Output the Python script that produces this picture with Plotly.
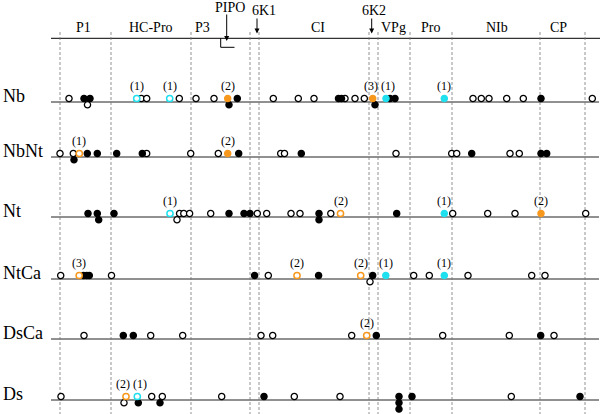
import plotly.graph_objects as go

# ---------------- data ----------------
rows = ["Nb", "NbNt", "Nt", "NtCa", "DsCa", "Ds"]
row_y = [102, 157, 217, 279, 339, 400]          # baseline of each row (y axis units)

regions = ["P1", "HC-Pro", "P3", "CI", "VPg", "Pro", "NIb", "CP"]
region_x = [83, 150.5, 202, 318, 393.5, 430, 496.5, 558]
boundaries = [60, 111, 191, 250, 259, 369, 378, 410, 452, 540, 585]

genome_start, genome_end = 51, 599
small = ["PIPO", "6K1", "6K2"]
small_x = [230, 264, 374]
arrow_x = [226.7, 257, 371.7]

# marker kinds: o=open black, f=filled black, co=cyan open, cf=cyan filled, oo=orange open, of=orange filled
# each entry: (position, kind, stack level, label)
mut = {
    "Nb": [(69, "o", 0, ""), (84, "f", 0, ""), (90, "f", 0, ""), (87.5, "o", 1, ""),
           (136.7, "co", 0, "(1)"), (141.3, "o", 0, ""), (146.7, "o", 0, ""),
           (169.7, "co", 0, "(1)"), (179.3, "o", 0, ""), (196, "o", 0, ""), (214, "o", 0, ""),
           (227.7, "of", 0, "(2)"), (237.3, "f", 0, ""), (229, "f", 1, ""),
           (273.3, "o", 0, ""), (298.3, "o", 0, ""), (314, "o", 0, ""),
           (338.5, "f", 0, ""), (341.5, "f", 0, ""), (345, "o", 0, ""), (355, "o", 0, ""), (364.3, "o", 0, ""),
           (372.7, "of", 0, "(3)"), (375, "f", 1, ""),
           (386, "cf", 0, "(1)"), (390, "f", 0, ""), (395, "f", 0, ""),
           (444.3, "cf", 0, "(1)"), (473, "o", 0, ""), (481.3, "o", 0, ""), (489, "o", 0, ""),
           (506.7, "o", 0, ""), (523.3, "o", 0, ""), (541, "f", 0, ""), (592.3, "o", 0, "")],
    "NbNt": [(60, "o", 0, ""), (73.3, "o", 0, ""), (79.3, "oo", 0, "(1)"), (74, "f", 1, ""),
             (87.3, "f", 0, ""), (97.3, "f", 0, ""), (116.7, "f", 0, ""), (142.3, "f", 0, ""),
             (146.7, "o", 0, ""), (190.7, "o", 0, ""), (218.3, "o", 0, ""), (227.7, "of", 0, "(2)"),
             (238.7, "f", 0, ""), (280.7, "o", 0, ""), (284.5, "o", 0, ""), (301.3, "f", 0, ""),
             (396, "o", 0, ""), (451.7, "o", 0, ""), (456.7, "o", 0, ""), (471.7, "f", 0, ""),
             (510, "o", 0, ""), (519.3, "o", 0, ""), (541, "f", 0, ""), (546.7, "f", 0, "")],
    "Nt": [(88, "f", 0, ""), (97.3, "f", 0, ""), (98.7, "f", 1, ""), (114, "f", 0, ""),
           (170, "co", 0, "(1)"), (179.6, "o", 0, ""), (183.8, "o", 0, ""), (189.6, "o", 0, ""),
           (177, "o", 1, ""), (210.7, "o", 0, ""), (229, "f", 0, ""), (244, "f", 0, ""),
           (250, "f", 0, ""), (257.3, "o", 0, ""), (266.7, "o", 0, ""), (291, "o", 0, ""),
           (300, "o", 0, ""), (319, "f", 0, ""), (319, "f", 1, ""), (330.8, "o", 0, ""),
           (340.5, "oo", 0, "(2)"), (396.7, "f", 0, ""), (444.3, "cf", 0, "(1)"),
           (452.7, "o", 0, ""), (487.7, "o", 0, ""), (515, "o", 0, ""), (541, "of", 0, "(2)"),
           (585.7, "o", 0, "")],
    "NtCa": [(60.7, "o", 0, ""), (79.2, "oo", 0, "(3)"), (83.5, "f", 0, ""), (86.7, "f", 0, ""),
             (89.3, "f", 0, ""), (111.5, "o", 0, ""), (254.6, "f", 0, ""), (268.3, "o", 0, ""),
             (297, "oo", 0, "(2)"), (318.6, "f", 0, ""), (360.7, "oo", 0, "(2)"),
             (372.7, "f", 0, ""), (370, "o", 1, ""), (385.8, "cf", 0, "(1)"),
             (413.7, "o", 0, ""), (429.3, "o", 0, ""), (444.3, "cf", 0, "(1)"),
             (468, "o", 0, ""), (531.7, "o", 0, ""), (545, "o", 0, "")],
    "DsCa": [(84, "o", 0, ""), (123.3, "f", 0, ""), (133.3, "f", 0, ""), (150.7, "o", 0, ""),
             (182.7, "o", 0, ""), (261, "o", 0, ""), (272.7, "o", 0, ""), (351.7, "o", 0, ""),
             (366.7, "oo", 0, "(2)"), (376.3, "f", 0, ""), (442.7, "o", 0, ""),
             (509.3, "o", 0, ""), (540.7, "f", 0, ""), (554, "o", 0, "")],
    "Ds": [(61, "o", 0, ""), (126, "oo", 0, "(2)"), (137.3, "co", 0, "(1)"), (124, "o", 1, ""),
           (138.3, "f", 1, ""), (151.7, "o", 0, ""), (162.3, "o", 0, ""), (160, "f", 1, ""),
           (221.7, "o", 0, ""), (264, "f", 0, ""), (294.3, "o", 0, ""), (340, "o", 0, ""),
           (399, "f", 0, ""), (399, "f", 1, ""), (399, "f", 2, ""), (412, "f", 0, ""),
           (511.3, "o", 0, ""), (580, "f", 0, "")],
}

CYAN = "#1FE0EE"
ORANGE = "#F7981D"
kinds = {
    "o": dict(color="white", line=dict(color="black", width=1.3)),
    "f": dict(color="black", line=dict(color="black", width=1.3)),
    "co": dict(color="white", line=dict(color=CYAN, width=1.5)),
    "cf": dict(color=CYAN, line=dict(color=CYAN, width=1.3)),
    "oo": dict(color="white", line=dict(color=ORANGE, width=1.5)),
    "of": dict(color=ORANGE, line=dict(color=ORANGE, width=1.3)),
}

LEVEL0 = -3.5   # marker centre relative to baseline
LEVEL_STEP = 6.3
LABEL_UP = 12.5

fig = go.Figure()
SERIF = "Liberation Serif, Times New Roman, serif"

# genome bar and row lines
fig.add_shape(type="line", x0=genome_start, x1=genome_end + 1, y0=38.3, y1=38.3,
              line=dict(color="black", width=1), layer="below")
for yb in row_y:
    fig.add_shape(type="line", x0=genome_start, x1=genome_end, y0=yb, y1=yb,
                  line=dict(color="#222222", width=1), layer="below")
for bx in boundaries:
    fig.add_shape(type="line", x0=bx, x1=bx, y0=32, y1=414,
                  line=dict(color="#777777", width=0.8, dash="3px,2px"), layer="below")

# PIPO bracket
fig.add_shape(type="line", x0=220.7, x1=220.7, y0=38.3, y1=47.3, line=dict(color="black", width=1))
fig.add_shape(type="line", x0=220.7, x1=234.5, y0=47.3, y1=47.3, line=dict(color="black", width=1))

# markers
for k, st in kinds.items():
    xs, ys = [], []
    for r, yb in zip(rows, row_y):
        for (x, kind, lvl, lab) in mut[r]:
            if kind == k:
                xs.append(x)
                ys.append(yb + LEVEL0 + lvl * LEVEL_STEP)
    fig.add_trace(go.Scatter(x=xs, y=ys, mode="markers", hoverinfo="skip",
                             marker=dict(size=6.2, symbol="circle", **st), showlegend=False))

# count labels (adjacent labels that are too close are pushed apart around their midpoint)
for r, yb in zip(rows, row_y):
    labs = sorted([(x, lab) for (x, kind, lvl, lab) in mut[r] if lab])
    for i, (x, lab) in enumerate(labs):
        anchor, xx = "center", x
        if i + 1 < len(labs) and labs[i + 1][0] - x < 14:
            anchor, xx = "right", (x + labs[i + 1][0]) / 2 - 0.5
        elif i > 0 and x - labs[i - 1][0] < 14:
            anchor, xx = "left", (x + labs[i - 1][0]) / 2 + 0.5
        fig.add_annotation(x=xx, y=yb + LEVEL0 - LABEL_UP, text=lab, showarrow=False,
                           xanchor=anchor, yanchor="middle",
                           font=dict(family=SERIF, size=12, color="black"),
                           borderpad=0)

# row labels
for r, yb in zip(rows, row_y):
    fig.add_annotation(x=1, y=yb - 6, text=r, showarrow=False, xanchor="left", yanchor="middle",
                       font=dict(family=SERIF, size=18, color="black"))
# region labels
for name, cx in zip(regions, region_x):
    fig.add_annotation(x=cx, y=27, text=name, showarrow=False, xanchor="center", yanchor="middle",
                       font=dict(family=SERIF, size=14, color="black"))
# small protein labels with arrows
for name, tx, ax in zip(small, small_x, arrow_x):
    ty = 7 if name == "PIPO" else 10.5
    fig.add_annotation(x=tx, y=ty, text=name, showarrow=False, xanchor="center", yanchor="middle",
                       font=dict(family=SERIF, size=14, color="black"))
    y0 = 13 if name == "PIPO" else 17
    y1 = 41 if name == "PIPO" else 33.5
    fig.add_annotation(x=ax, y=y1, ax=ax, ay=y0, xref="x", yref="y", axref="x", ayref="y",
                       text="", showarrow=True, arrowhead=2, arrowsize=1, arrowwidth=1,
                       arrowcolor="black")

fig.update_layout(width=600, height=414, margin=dict(l=0, r=0, t=0, b=0),
                  plot_bgcolor="white", paper_bgcolor="white",
                  xaxis=dict(range=[0, 600], visible=False, fixedrange=True),
                  yaxis=dict(range=[414, 0], visible=False, fixedrange=True))
fig.write_html("out.html", config={"displayModeBar": False},
               post_script="document.body.style.margin='0';document.documentElement.style.overflow='hidden';")
